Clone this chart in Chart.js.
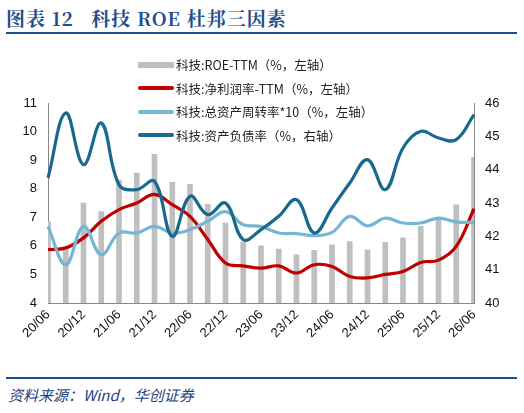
<!DOCTYPE html>
<html><head><meta charset="utf-8">
<script src="https://cdn.jsdelivr.net/npm/chart.js@4"></script>
<style>
body{margin:0;width:524px;height:413px;background:#fff;position:relative;overflow:hidden;font-family:"Noto Sans CJK SC",sans-serif}
#title{position:absolute;left:6px;top:4px;font-family:"Noto Serif CJK SC","Noto Sans CJK SC",serif;font-weight:bold;font-size:19px;color:#1f4e8c;letter-spacing:1px}
.hr{position:absolute;left:6px;width:511px;height:2px;background:#1f4e8c}
#src{position:absolute;left:8px;top:384px;font-size:15px;font-style:italic;color:#1f3f7a}
#wrap{position:absolute;left:0;top:0;width:524px;height:345px}
#leg{position:absolute;left:138px;top:53px;font-size:12.5px;color:#222;line-height:23.5px}
.li{display:flex;align-items:center;white-space:nowrap}
.sw{width:36px;margin-right:2px}
</style></head><body>
<div id="title">图表 12&nbsp;&nbsp;&nbsp;科技 ROE 杜邦三因素</div>
<div class="hr" style="top:32px"></div>
<div id="wrap"><canvas id="c" width="524" height="345"></canvas></div>
<div id="leg">
<div class="li"><span class="sw" style="height:6px;background:#bfbfbf"></span>科技:ROE-TTM（%，左轴）</div>
<div class="li"><span class="sw" style="height:4px;background:#c00000;border-radius:2px"></span>科技:净利润率-TTM（%，左轴）</div>
<div class="li"><span class="sw" style="height:4px;background:#74b6d4;border-radius:2px"></span>科技:总资产周转率*10（%，左轴）</div>
<div class="li"><span class="sw" style="height:4px;background:#1a6890;border-radius:2px"></span>科技:资产负债率（%，右轴）</div>
</div>
<div class="hr" style="top:377px"></div>
<div id="src">资料来源：Wind，华创证券</div>
<script>
const categories=["20/06","20/09","20/12","21/03","21/06","21/09","21/12","22/03","22/06","22/09","22/12","23/03","23/06","23/09","23/12","24/03","24/06","24/09","24/12","25/03","25/06","25/09","25/12","26/03","26/06"];
const roe=[6.86,5.9,7.5,7.2,8.3,8.55,9.2,8.22,8.15,7.45,6.8,6.12,6.0,5.89,5.69,5.84,6.04,6.15,5.86,6.12,6.28,6.68,6.98,7.44,9.1];
const netMargin=[5.87,5.93,6.28,6.86,7.27,7.5,7.8,7.44,7.03,6.22,5.4,5.3,5.22,5.3,5.05,5.34,5.28,4.93,4.88,5.0,5.1,5.42,5.5,5.98,7.3];
const turnover10=[6.68,5.34,6.68,5.69,6.45,6.45,6.68,6.45,6.57,6.86,7.2,6.74,6.68,6.45,6.43,6.36,6.47,7.03,6.7,6.97,6.8,6.8,6.97,6.84,6.82];
const debtRatio=[43.75,45.7,44.15,45.4,43.55,43.4,43.65,42.0,43.2,42.65,43.0,41.9,42.2,42.6,43.1,42.1,42.85,43.6,44.3,43.4,44.65,45.15,44.95,44.9,45.65];
const leftTicks=[4,5,6,7,8,9,10,11];
const rightTicks=[40,41,42,43,44,45,46];
const tickFont={family:"Liberation Sans, Arial",size:13};
const ln=(d,c,ax)=>({type:'line',data:d,borderColor:c,borderWidth:3.2,pointRadius:0,tension:0.4,yAxisID:ax,fill:false});
new Chart(document.getElementById('c'),{
 data:{labels:categories,datasets:[
  ln(debtRatio,'#1a6890','y1'),
  ln(turnover10,'#74b6d4','y'),
  ln(netMargin,'#c00000','y'),
  {type:'bar',data:roe,backgroundColor:'#bfbfbf',barThickness:5,yAxisID:'y'}
 ]},
 options:{responsive:false,animation:false,devicePixelRatio:1,
  layout:{padding:{top:103,left:0,right:0,bottom:0}},
  plugins:{legend:{display:false},tooltip:{enabled:false}},
  scales:{
   x:{type:'category',offset:false,grid:{display:false,drawTicks:true,tickLength:4,color:'#888'},border:{color:'#888'},
      ticks:{autoSkip:false,maxRotation:45,minRotation:45,color:'#111',font:tickFont,padding:0,
      callback:(v,i)=>i%2===0?categories[i]:''},afterFit:s=>{s.height=42}},
   y:{type:'linear',position:'left',min:4,max:11,afterBuildTicks:s=>{s.ticks=leftTicks.map(v=>({value:v}))},
      grid:{display:false},border:{color:'#888'},ticks:{color:'#111',font:tickFont},afterFit:s=>{s.width=48}},
   y1:{type:'linear',position:'right',min:40,max:46,afterBuildTicks:s=>{s.ticks=rightTicks.map(v=>({value:v}))},
      grid:{display:false},border:{color:'#888'},ticks:{color:'#111',font:tickFont},afterFit:s=>{s.width=50}}
  }}
});
</script>
</body></html>
